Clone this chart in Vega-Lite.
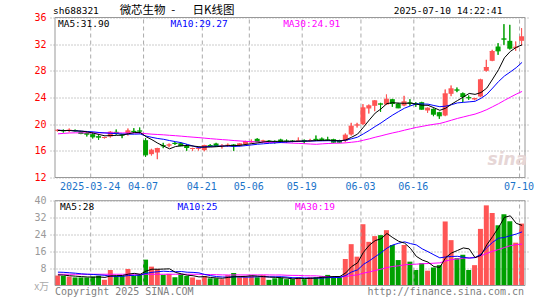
{
"$schema": "https://vega.github.io/schema/vega-lite/v6.json",
"width": 480, "height": 268,
"autosize": {"type": "none"},
"padding": {"left": 50, "top": 17.5, "right": 15, "bottom": 14.5},
"background": "white",
"config": {"view": {"stroke": null}, "font": "DejaVu Sans Mono"},
"datasets": {
"dates": [{"i":6,"d":"2025-03-24"},{"i":15,"d":"04-07"},{"i":25,"d":"04-21"},{"i":33,"d":"05-06"},{"i":42,"d":"05-19"},{"i":52,"d":"06-03"},{"i":61,"d":"06-16"},{"i":79,"d":"07-10"}],
"k": [
{"i":0,"d":"2025-03-14","o":19.0,"h":19.25,"l":18.9,"c":19.1,"v":4.7,"m5":19.05,"m10":19.1,"m30":18.55,"vm5":5.0,"vm10":6.3,"vm30":5.3},
{"i":1,"d":"2025-03-17","o":19.1,"h":19.2,"l":18.75,"c":19.0,"v":4.5,"m5":19.05,"m10":19.05,"m30":18.62,"vm5":4.9,"vm10":6.2,"vm30":5.3},
{"i":2,"d":"2025-03-18","o":19.0,"h":19.35,"l":18.8,"c":19.1,"v":4.2,"m5":19.05,"m10":19.05,"m30":18.68,"vm5":4.6,"vm10":6.0,"vm30":5.3},
{"i":3,"d":"2025-03-19","o":19.1,"h":19.2,"l":18.9,"c":19.0,"v":3.8,"m5":19.0,"m10":19.0,"m30":18.7,"vm5":4.4,"vm10":5.8,"vm30":5.3},
{"i":4,"d":"2025-03-20","o":18.9,"h":18.95,"l":18.5,"c":18.6,"v":3.8,"m5":18.96,"m10":18.95,"m30":18.7,"vm5":4.2,"vm10":5.5,"vm30":5.3},
{"i":5,"d":"2025-03-21","o":18.7,"h":18.8,"l":18.15,"c":18.5,"v":3.8,"m5":18.84,"m10":18.9,"m30":18.7,"vm5":4.02,"vm10":5.3,"vm30":5.3},
{"i":6,"d":"2025-03-24","o":18.5,"h":18.75,"l":17.85,"c":18.1,"v":4.2,"m5":18.66,"m10":18.85,"m30":18.7,"vm5":3.96,"vm10":5.2,"vm30":5.3},
{"i":7,"d":"2025-03-25","o":18.2,"h":18.35,"l":17.65,"c":18.05,"v":4.6,"m5":18.45,"m10":18.75,"m30":18.7,"vm5":4.04,"vm10":5.0,"vm30":5.3},
{"i":8,"d":"2025-03-26","o":17.95,"h":18.1,"l":17.85,"c":18.0,"v":2.7,"m5":18.25,"m10":18.68,"m30":18.7,"vm5":3.82,"vm10":4.8,"vm30":5.3},
{"i":9,"d":"2025-03-27","o":18.15,"h":18.95,"l":18.0,"c":18.8,"v":7.3,"m5":18.29,"m10":18.63,"m30":18.7,"vm5":4.52,"vm10":4.36,"vm30":5.3},
{"i":10,"d":"2025-03-28","o":18.85,"h":19.2,"l":18.4,"c":18.65,"v":4.5,"m5":18.32,"m10":18.58,"m30":18.7,"vm5":4.66,"vm10":4.34,"vm30":5.3},
{"i":11,"d":"2025-03-31","o":18.45,"h":18.55,"l":17.9,"c":18.35,"v":4.5,"m5":18.37,"m10":18.52,"m30":18.68,"vm5":4.72,"vm10":4.34,"vm30":5.3},
{"i":12,"d":"2025-04-01","o":18.6,"h":19.35,"l":18.3,"c":19.0,"v":7.8,"m5":18.56,"m10":18.5,"m30":18.68,"vm5":5.36,"vm10":4.7,"vm30":5.3},
{"i":13,"d":"2025-04-02","o":19.0,"h":19.4,"l":18.7,"c":18.9,"v":4.5,"m5":18.74,"m10":18.5,"m30":18.67,"vm5":5.72,"vm10":4.77,"vm30":5.3},
{"i":14,"d":"2025-04-03","o":19.05,"h":19.5,"l":18.6,"c":18.95,"v":5.0,"m5":18.77,"m10":18.53,"m30":18.66,"vm5":5.26,"vm10":4.89,"vm30":5.3},
{"i":15,"d":"2025-04-07","o":17.6,"h":17.9,"l":15.1,"c":15.4,"v":12.2,"m5":18.12,"m10":18.22,"m30":18.57,"vm5":6.8,"vm10":5.73,"vm30":5.3},
{"i":16,"d":"2025-04-08","o":15.5,"h":16.3,"l":15.3,"c":16.1,"v":8.9,"m5":17.67,"m10":18.02,"m30":18.5,"vm5":7.68,"vm10":6.2,"vm30":5.3},
{"i":17,"d":"2025-04-09","o":15.75,"h":16.45,"l":14.75,"c":16.35,"v":7.7,"m5":17.14,"m10":17.85,"m30":18.45,"vm5":7.66,"vm10":6.51,"vm30":5.3},
{"i":18,"d":"2025-04-10","o":16.85,"h":17.2,"l":16.4,"c":16.75,"v":5.0,"m5":16.71,"m10":17.73,"m30":18.4,"vm5":7.76,"vm10":6.74,"vm30":5.3},
{"i":19,"d":"2025-04-11","o":16.8,"h":17.1,"l":16.55,"c":16.9,"v":5.5,"m5":16.3,"m10":17.54,"m30":18.33,"vm5":7.86,"vm10":6.56,"vm30":5.3},
{"i":20,"d":"2025-04-14","o":17.2,"h":17.35,"l":16.9,"c":17.1,"v":3.9,"m5":16.64,"m10":17.38,"m30":18.27,"vm5":6.2,"vm10":6.5,"vm30":5.3},
{"i":21,"d":"2025-04-15","o":17.15,"h":17.3,"l":16.7,"c":16.75,"v":5.4,"m5":16.77,"m10":17.22,"m30":18.2,"vm5":5.5,"vm10":6.59,"vm30":5.3},
{"i":22,"d":"2025-04-16","o":16.75,"h":17.0,"l":16.0,"c":16.5,"v":4.5,"m5":16.8,"m10":16.97,"m30":18.12,"vm5":4.86,"vm10":6.26,"vm30":5.3},
{"i":23,"d":"2025-04-17","o":16.3,"h":16.45,"l":16.0,"c":16.35,"v":3.8,"m5":16.72,"m10":16.72,"m30":18.05,"vm5":4.62,"vm10":6.19,"vm30":5.3},
{"i":24,"d":"2025-04-18","o":16.3,"h":16.5,"l":16.05,"c":16.4,"v":2.7,"m5":16.62,"m10":16.46,"m30":17.98,"vm5":4.06,"vm10":5.96,"vm30":5.3},
{"i":25,"d":"2025-04-21","o":16.1,"h":16.9,"l":15.95,"c":16.8,"v":4.5,"m5":16.56,"m10":16.6,"m30":17.9,"vm5":4.18,"vm10":5.19,"vm30":5.2},
{"i":26,"d":"2025-04-22","o":16.85,"h":17.0,"l":16.6,"c":16.8,"v":3.4,"m5":16.57,"m10":16.67,"m30":17.82,"vm5":3.78,"vm10":4.64,"vm30":5.15},
{"i":27,"d":"2025-04-23","o":17.1,"h":17.2,"l":16.6,"c":16.75,"v":3.4,"m5":16.62,"m10":16.71,"m30":17.75,"vm5":3.56,"vm10":4.21,"vm30":5.1},
{"i":28,"d":"2025-04-24","o":16.7,"h":17.0,"l":16.35,"c":16.75,"v":3.0,"m5":16.7,"m10":16.71,"m30":17.68,"vm5":3.4,"vm10":4.01,"vm30":5.0},
{"i":29,"d":"2025-04-25","o":16.8,"h":17.1,"l":16.6,"c":16.85,"v":4.85,"m5":16.79,"m10":16.7,"m30":17.62,"vm5":3.83,"vm10":3.95,"vm30":4.96},
{"i":30,"d":"2025-04-28","o":16.95,"h":17.0,"l":16.0,"c":16.75,"v":5.9,"m5":16.78,"m10":16.67,"m30":17.54,"vm5":4.11,"vm10":4.15,"vm30":5.0},
{"i":31,"d":"2025-04-29","o":16.8,"h":17.15,"l":16.7,"c":17.05,"v":3.9,"m5":16.83,"m10":16.7,"m30":17.48,"vm5":4.21,"vm10":4.0,"vm30":4.98},
{"i":32,"d":"2025-04-30","o":17.0,"h":17.5,"l":16.95,"c":17.4,"v":3.9,"m5":16.96,"m10":16.79,"m30":17.42,"vm5":4.31,"vm10":3.94,"vm30":4.97},
{"i":33,"d":"2025-05-06","o":17.3,"h":17.7,"l":17.2,"c":17.35,"v":4.5,"m5":17.08,"m10":16.89,"m30":17.37,"vm5":4.61,"vm10":4.0,"vm30":4.99},
{"i":34,"d":"2025-05-07","o":17.8,"h":17.9,"l":17.3,"c":17.4,"v":3.9,"m5":17.19,"m10":16.99,"m30":17.33,"vm5":4.42,"vm10":4.13,"vm30":4.99},
{"i":35,"d":"2025-05-08","o":17.45,"h":17.65,"l":17.25,"c":17.5,"v":4.85,"m5":17.34,"m10":17.06,"m30":17.29,"vm5":4.21,"vm10":4.16,"vm30":5.03},
{"i":36,"d":"2025-05-09","o":17.5,"h":17.6,"l":17.2,"c":17.45,"v":2.65,"m5":17.42,"m10":17.13,"m30":17.27,"vm5":3.96,"vm10":4.09,"vm30":4.98},
{"i":37,"d":"2025-05-12","o":17.45,"h":17.55,"l":17.1,"c":17.4,"v":3.4,"m5":17.42,"m10":17.19,"m30":17.25,"vm5":3.86,"vm10":4.09,"vm30":4.94},
{"i":38,"d":"2025-05-13","o":17.7,"h":17.8,"l":17.3,"c":17.4,"v":3.6,"m5":17.43,"m10":17.26,"m30":17.23,"vm5":3.68,"vm10":4.15,"vm30":4.97},
{"i":39,"d":"2025-05-14","o":17.5,"h":17.7,"l":17.2,"c":17.45,"v":3.0,"m5":17.44,"m10":17.32,"m30":17.19,"vm5":3.5,"vm10":3.96,"vm30":4.82},
{"i":40,"d":"2025-05-15","o":17.5,"h":17.6,"l":17.3,"c":17.45,"v":3.0,"m5":17.43,"m10":17.39,"m30":17.15,"vm5":3.13,"vm10":3.67,"vm30":4.77},
{"i":41,"d":"2025-05-16","o":17.45,"h":18.0,"l":17.4,"c":17.5,"v":3.9,"m5":17.44,"m10":17.43,"m30":17.12,"vm5":3.38,"vm10":3.67,"vm30":4.75},
{"i":42,"d":"2025-05-19","o":17.6,"h":17.7,"l":17.1,"c":17.5,"v":3.0,"m5":17.46,"m10":17.44,"m30":17.07,"vm5":3.3,"vm10":3.58,"vm30":4.59},
{"i":43,"d":"2025-05-20","o":17.5,"h":17.8,"l":17.4,"c":17.55,"v":3.9,"m5":17.49,"m10":17.46,"m30":17.02,"vm5":3.36,"vm10":3.52,"vm30":4.57},
{"i":44,"d":"2025-05-21","o":17.8,"h":18.3,"l":17.5,"c":17.7,"v":3.9,"m5":17.54,"m10":17.49,"m30":16.98,"vm5":3.54,"vm10":3.52,"vm30":4.54},
{"i":45,"d":"2025-05-22","o":17.85,"h":18.0,"l":17.5,"c":17.6,"v":4.5,"m5":17.57,"m10":17.5,"m30":17.05,"vm5":3.84,"vm10":3.49,"vm30":4.28},
{"i":46,"d":"2025-05-23","o":17.7,"h":18.1,"l":17.5,"c":17.6,"v":5.0,"m5":17.59,"m10":17.52,"m30":17.1,"vm5":4.06,"vm10":3.72,"vm30":4.15},
{"i":47,"d":"2025-05-26","o":17.75,"h":17.8,"l":17.2,"c":17.3,"v":3.9,"m5":17.55,"m10":17.5,"m30":17.14,"vm5":4.24,"vm10":3.77,"vm30":4.02},
{"i":48,"d":"2025-05-27","o":17.6,"h":17.65,"l":17.2,"c":17.3,"v":3.9,"m5":17.5,"m10":17.5,"m30":17.15,"vm5":4.24,"vm10":3.8,"vm30":3.99},
{"i":49,"d":"2025-05-28","o":17.5,"h":18.6,"l":17.3,"c":18.35,"v":12.5,"m5":17.63,"m10":17.59,"m30":17.2,"vm5":5.96,"vm10":4.75,"vm30":4.22},
{"i":50,"d":"2025-05-29","o":18.45,"h":20.2,"l":18.3,"c":19.7,"v":19.5,"m5":18.05,"m10":17.81,"m30":17.29,"vm5":8.96,"vm10":6.4,"vm30":4.74},
{"i":51,"d":"2025-05-30","o":19.8,"h":20.2,"l":19.5,"c":19.9,"v":13.6,"m5":18.51,"m10":18.05,"m30":17.39,"vm5":10.68,"vm10":7.37,"vm30":5.01},
{"i":52,"d":"2025-06-03","o":20.0,"h":23.0,"l":19.9,"c":22.45,"v":28.9,"m5":19.54,"m10":18.55,"m30":17.59,"vm5":15.68,"vm10":9.96,"vm30":5.83},
{"i":53,"d":"2025-06-04","o":22.35,"h":22.95,"l":21.6,"c":22.75,"v":20.6,"m5":20.63,"m10":19.07,"m30":17.8,"vm5":19.02,"vm10":11.63,"vm30":6.39},
{"i":54,"d":"2025-06-05","o":22.75,"h":23.6,"l":21.95,"c":23.5,"v":23.3,"m5":21.66,"m10":19.65,"m30":18.04,"vm5":21.18,"vm10":13.57,"vm30":7.07},
{"i":55,"d":"2025-06-06","o":23.1,"h":23.2,"l":21.85,"c":23.0,"v":23.75,"m5":22.3,"m10":20.19,"m30":18.25,"vm5":22.03,"vm10":15.5,"vm30":7.71},
{"i":56,"d":"2025-06-09","o":22.95,"h":24.45,"l":22.9,"c":23.75,"v":26.1,"m5":23.09,"m10":20.8,"m30":18.48,"vm5":24.53,"vm10":17.61,"vm30":8.47},
{"i":57,"d":"2025-06-10","o":23.75,"h":23.8,"l":22.6,"c":23.1,"v":19.1,"m5":23.22,"m10":21.38,"m30":18.69,"vm5":22.57,"vm10":19.13,"vm30":8.99},
{"i":58,"d":"2025-06-11","o":23.1,"h":23.2,"l":22.4,"c":22.45,"v":12.0,"m5":23.16,"m10":21.9,"m30":18.88,"vm5":20.85,"vm10":19.94,"vm30":9.29},
{"i":59,"d":"2025-06-12","o":22.8,"h":24.25,"l":22.7,"c":23.35,"v":19.1,"m5":23.13,"m10":22.4,"m30":19.1,"vm5":20.01,"vm10":20.6,"vm30":9.77},
{"i":60,"d":"2025-06-13","o":23.25,"h":23.75,"l":22.75,"c":23.15,"v":11.25,"m5":23.16,"m10":22.74,"m30":19.31,"vm5":17.51,"vm10":19.77,"vm30":9.95},
{"i":61,"d":"2025-06-16","o":23.15,"h":23.3,"l":22.6,"c":23.0,"v":7.3,"m5":23.01,"m10":23.05,"m30":19.51,"vm5":13.75,"vm10":19.14,"vm30":10.06},
{"i":62,"d":"2025-06-17","o":23.3,"h":23.35,"l":22.2,"c":22.25,"v":10.5,"m5":22.84,"m10":23.03,"m30":19.67,"vm5":12.03,"vm10":17.3,"vm30":10.28},
{"i":63,"d":"2025-06-18","o":22.05,"h":22.5,"l":21.7,"c":22.4,"v":7.0,"m5":22.83,"m10":23.0,"m30":19.84,"vm5":11.03,"vm10":15.94,"vm30":10.36},
{"i":64,"d":"2025-06-19","o":22.3,"h":22.35,"l":21.2,"c":21.5,"v":8.5,"m5":22.46,"m10":22.8,"m30":19.98,"vm5":8.91,"vm10":14.46,"vm30":10.52},
{"i":65,"d":"2025-06-20","o":21.8,"h":21.85,"l":20.8,"c":21.25,"v":9.6,"m5":22.08,"m10":22.62,"m30":20.1,"vm5":8.58,"vm10":13.05,"vm30":10.68},
{"i":66,"d":"2025-06-23","o":21.3,"h":25.2,"l":21.2,"c":24.55,"v":30.2,"m5":22.39,"m10":22.7,"m30":20.34,"vm5":13.16,"vm10":13.46,"vm30":11.59},
{"i":67,"d":"2025-06-24","o":24.55,"h":25.8,"l":24.2,"c":25.3,"v":21.4,"m5":23.0,"m10":22.92,"m30":20.6,"vm5":15.34,"vm10":13.69,"vm30":12.19},
{"i":68,"d":"2025-06-25","o":25.2,"h":25.5,"l":24.8,"c":25.1,"v":12.9,"m5":23.54,"m10":23.19,"m30":20.86,"vm5":16.52,"vm10":13.78,"vm30":12.5},
{"i":69,"d":"2025-06-26","o":24.65,"h":24.75,"l":23.3,"c":24.15,"v":14.5,"m5":24.07,"m10":23.27,"m30":21.08,"vm5":17.72,"vm10":13.32,"vm30":12.89},
{"i":70,"d":"2025-06-27","o":24.05,"h":24.3,"l":23.65,"c":23.95,"v":7.3,"m5":24.61,"m10":23.35,"m30":21.3,"vm5":17.26,"vm10":12.92,"vm30":13.03},
{"i":71,"d":"2025-06-30","o":23.7,"h":23.95,"l":23.6,"c":23.85,"v":9.6,"m5":24.47,"m10":23.43,"m30":21.51,"vm5":13.14,"vm10":13.15,"vm30":13.22},
{"i":72,"d":"2025-07-01","o":24.15,"h":26.8,"l":24.05,"c":26.65,"v":26.7,"m5":24.74,"m10":23.87,"m30":21.82,"vm5":14.2,"vm10":14.77,"vm30":14.01},
{"i":73,"d":"2025-07-02","o":28.0,"h":29.65,"l":27.9,"c":28.5,"v":37.8,"m5":25.42,"m10":24.48,"m30":22.18,"vm5":19.18,"vm10":17.85,"vm30":15.14},
{"i":74,"d":"2025-07-03","o":29.5,"h":31.15,"l":29.45,"c":30.9,"v":34.2,"m5":26.77,"m10":25.42,"m30":22.62,"vm5":23.12,"vm10":20.42,"vm30":16.15},
{"i":75,"d":"2025-07-04","o":31.65,"h":32.15,"l":30.4,"c":31.0,"v":28.4,"m5":28.18,"m10":26.4,"m30":23.07,"vm5":27.34,"vm10":22.3,"vm30":16.95},
{"i":76,"d":"2025-07-07","o":32.85,"h":35.0,"l":31.9,"c":32.75,"v":33.6,"m5":29.96,"m10":27.22,"m30":23.57,"vm5":32.14,"vm10":22.64,"vm30":17.9},
{"i":77,"d":"2025-07-08","o":32.5,"h":34.9,"l":31.2,"c":31.4,"v":30.3,"m5":30.91,"m10":27.83,"m30":24.04,"vm5":32.86,"vm10":23.53,"vm30":18.78},
{"i":78,"d":"2025-07-09","o":31.45,"h":32.4,"l":31.0,"c":31.55,"v":20.2,"m5":31.52,"m10":28.47,"m30":24.5,"vm5":29.34,"vm10":24.26,"vm30":19.32},
{"i":79,"d":"2025-07-10","o":32.5,"h":34.4,"l":31.85,"c":33.1,"v":29.2,"m5":31.9,"m10":29.27,"m30":24.91,"vm5":28.34,"vm10":25.3,"vm30":19.5}
]
},
"resolve": {"scale": {"y": "independent"}, "axis": {"y": "independent"}},
"layer": [
{"data": {"name": "k"}, "mark": {"type": "rule", "strokeWidth": 1, "xOffset": -0.5},
 "encoding": {"x": {"field": "i", "type": "quantitative", "scale": {"domain": [-0.5, 79.5], "nice": false, "zero": false}, "axis": null},
  "y": {"field": "l", "type": "quantitative", "scale": {"domain": [-4.2, 36], "nice": false, "zero": false},
   "axis": {"values": [12, 16, 20, 24, 28, 32, 36], "orient": "left", "grid": true, "gridDash": [1, 2], "gridColor": "#999999", "ticks": false, "domain": false, "labelColor": "#ff0000", "labelFont": "DejaVu Sans Mono", "labelFontSize": 10, "labelPadding": 4, "title": null}},
  "y2": {"field": "h"},
  "color": {"condition": {"test": "datum.c >= datum.o", "value": "#ff5555"}, "value": "#00a000"}}},
{"data": {"name": "k"}, "mark": {"type": "bar", "size": 5, "xOffset": -0.5},
 "encoding": {"x": {"field": "i", "type": "quantitative", "scale": {"domain": [-0.5, 79.5], "nice": false, "zero": false}, "axis": null},
  "y": {"field": "v", "type": "quantitative", "scale": {"domain": [0, 126.4], "nice": false, "zero": false},
   "axis": {"values": [8, 16, 24, 32, 40], "orient": "left", "grid": true, "gridDash": [1, 2], "gridColor": "#999999", "ticks": false, "domain": false, "labelColor": "#999999", "labelFont": "DejaVu Sans Mono", "labelFontSize": 10, "labelPadding": 4, "title": null}},
  "color": {"condition": {"test": "datum.c >= datum.o", "value": "#ff5555"}, "value": "#00a000"}}},
{"data": {"name": "dates"}, "mark": {"type": "rule", "stroke": "#aaaaaa", "strokeWidth": 1, "strokeDash": [4, 3], "xOffset": -2.5},
 "encoding": {"x": {"field": "i", "type": "quantitative", "axis": null},
  "y": {"datum": 12, "type": "quantitative", "scale": {"domain": [-4.2, 36], "nice": false, "zero": false}, "axis": null}, "y2": {"datum": 36}}},
{"data": {"name": "dates"}, "mark": {"type": "rule", "stroke": "#aaaaaa", "strokeWidth": 1, "strokeDash": [4, 3], "xOffset": -2.5},
 "encoding": {"x": {"field": "i", "type": "quantitative", "axis": null},
  "y": {"datum": 0, "type": "quantitative", "scale": {"domain": [0, 126.4], "nice": false, "zero": false}, "axis": null}, "y2": {"datum": 40}}},
{"data": {"name": "dates"}, "mark": {"type": "text", "color": "#1a73c9", "font": "DejaVu Sans Mono", "fontSize": 10, "align": "center", "baseline": "middle", "xOffset": -3},
 "encoding": {"x": {"field": "i", "type": "quantitative", "axis": null},
  "y": {"datum": 10.62, "type": "quantitative", "scale": {"domain": [-4.2, 36], "nice": false, "zero": false}, "axis": null}, "text": {"field": "d"}}},
{"data": {"name": "k"}, "mark": {"type": "rule", "strokeWidth": 1, "xOffset": -0.5},
 "encoding": {"x": {"field": "i", "type": "quantitative", "axis": null},
  "y": {"field": "l", "type": "quantitative", "scale": {"domain": [-4.2, 36], "nice": false, "zero": false}, "axis": null}, "y2": {"field": "h"},
  "color": {"condition": {"test": "datum.c >= datum.o", "value": "#ff5555"}, "value": "#00a000"}}},
{"data": {"name": "k"}, "mark": {"type": "bar", "size": 5, "xOffset": -0.5},
 "encoding": {"x": {"field": "i", "type": "quantitative", "axis": null},
  "y": {"field": "o", "type": "quantitative", "scale": {"domain": [-4.2, 36], "nice": false, "zero": false}, "axis": null}, "y2": {"field": "c"},
  "color": {"condition": {"test": "datum.c >= datum.o", "value": "#ff5555"}, "value": "#00a000"}}},
{"data": {"name": "k"}, "mark": {"type": "tick", "orient": "horizontal", "size": 5, "thickness": 1, "xOffset": -0.5, "opacity": 1},
 "encoding": {"x": {"field": "i", "type": "quantitative", "axis": null},
  "y": {"field": "c", "type": "quantitative", "scale": {"domain": [-4.2, 36], "nice": false, "zero": false}, "axis": null},
  "color": {"condition": {"test": "datum.c >= datum.o", "value": "#ff5555"}, "value": "#00a000"}}},
{"data": {"name": "k"}, "mark": {"type": "line", "color": "#ff00ff", "strokeWidth": 1},
 "encoding": {"x": {"field": "i", "type": "quantitative", "axis": null}, "y": {"field": "m30", "type": "quantitative", "scale": {"domain": [-4.2, 36], "nice": false, "zero": false}, "axis": null}}},
{"data": {"name": "k"}, "mark": {"type": "line", "color": "#0000ff", "strokeWidth": 1},
 "encoding": {"x": {"field": "i", "type": "quantitative", "axis": null}, "y": {"field": "m10", "type": "quantitative", "scale": {"domain": [-4.2, 36], "nice": false, "zero": false}, "axis": null}}},
{"data": {"name": "k"}, "mark": {"type": "line", "color": "#000000", "strokeWidth": 1},
 "encoding": {"x": {"field": "i", "type": "quantitative", "axis": null}, "y": {"field": "m5", "type": "quantitative", "scale": {"domain": [-4.2, 36], "nice": false, "zero": false}, "axis": null}}},
{"data": {"name": "k"}, "mark": {"type": "line", "color": "#ff00ff", "strokeWidth": 1},
 "encoding": {"x": {"field": "i", "type": "quantitative", "axis": null}, "y": {"field": "vm30", "type": "quantitative", "scale": {"domain": [0, 126.4], "nice": false, "zero": false}, "axis": null}}},
{"data": {"name": "k"}, "mark": {"type": "line", "color": "#0000ff", "strokeWidth": 1},
 "encoding": {"x": {"field": "i", "type": "quantitative", "axis": null}, "y": {"field": "vm10", "type": "quantitative", "scale": {"domain": [0, 126.4], "nice": false, "zero": false}, "axis": null}}},
{"data": {"name": "k"}, "mark": {"type": "line", "color": "#000000", "strokeWidth": 1},
 "encoding": {"x": {"field": "i", "type": "quantitative", "axis": null}, "y": {"field": "vm5", "type": "quantitative", "scale": {"domain": [0, 126.4], "nice": false, "zero": false}, "axis": null}}},
{"data": {"values": [{}]}, "mark": {"type": "rect", "fillOpacity": 0, "stroke": "#999999", "strokeWidth": 1},
 "encoding": {"x": {"datum": -0.5, "type": "quantitative", "axis": null}, "x2": {"datum": 79.5},
  "y": {"datum": 12, "type": "quantitative", "scale": {"domain": [-4.2, 36], "nice": false, "zero": false}, "axis": null}, "y2": {"datum": 36}}},
{"data": {"values": [{}]}, "mark": {"type": "rect", "fillOpacity": 0, "stroke": "#999999", "strokeWidth": 1},
 "encoding": {"x": {"datum": -0.5, "type": "quantitative", "axis": null}, "x2": {"datum": 79.5},
  "y": {"datum": 0, "type": "quantitative", "scale": {"domain": [0, 126.4], "nice": false, "zero": false}, "axis": null}, "y2": {"datum": 40}}},
{"data": {"values": [{"t": "MA5:31.90"}]}, "mark": {"type": "text", "align": "left", "baseline": "middle", "font": "DejaVu Sans Mono", "fontSize": 9.5, "color": "#000000"},
 "encoding": {"x": {"datum": 0, "type": "quantitative", "axis": null}, "y": {"datum": 35.03, "type": "quantitative", "scale": {"domain": [-4.2, 36], "nice": false, "zero": false}, "axis": null}, "text": {"field": "t"}}},
{"data": {"values": [{"t": "MA10:29.27"}]}, "mark": {"type": "text", "align": "left", "baseline": "middle", "font": "DejaVu Sans Mono", "fontSize": 9.5, "color": "#0000ff"},
 "encoding": {"x": {"datum": 19.17, "type": "quantitative", "axis": null}, "y": {"datum": 35.03, "type": "quantitative", "scale": {"domain": [-4.2, 36], "nice": false, "zero": false}, "axis": null}, "text": {"field": "t"}}},
{"data": {"values": [{"t": "MA30:24.91"}]}, "mark": {"type": "text", "align": "left", "baseline": "middle", "font": "DejaVu Sans Mono", "fontSize": 9.5, "color": "#ff00ff"},
 "encoding": {"x": {"datum": 38.33, "type": "quantitative", "axis": null}, "y": {"datum": 35.03, "type": "quantitative", "scale": {"domain": [-4.2, 36], "nice": false, "zero": false}, "axis": null}, "text": {"field": "t"}}},
{"data": {"values": [{"t": "sh688321"}]}, "mark": {"type": "text", "align": "left", "baseline": "middle", "font": "DejaVu Sans Mono", "fontSize": 9.5, "color": "#000000"},
 "encoding": {"x": {"datum": -0.83, "type": "quantitative", "axis": null}, "y": {"datum": 37.0, "type": "quantitative", "scale": {"domain": [-4.2, 36], "nice": false, "zero": false}, "axis": null}, "text": {"field": "t"}}},
{"data": {"values": [{"t": "微芯生物\u2002-\u3000\u2002日K线图"}]}, "mark": {"type": "text", "align": "left", "baseline": "middle", "font": "Noto Sans CJK SC", "fontSize": 11.5, "color": "#000000"},
 "encoding": {"x": {"datum": 10.5, "type": "quantitative", "axis": null}, "y": {"datum": 37.05, "type": "quantitative", "scale": {"domain": [-4.2, 36], "nice": false, "zero": false}, "axis": null}, "text": {"field": "t"}}},
{"data": {"values": [{"t": "2025-07-10 14:22:41"}]}, "mark": {"type": "text", "align": "right", "baseline": "middle", "font": "DejaVu Sans Mono", "fontSize": 9.5, "color": "#000000"},
 "encoding": {"x": {"datum": 75.67, "type": "quantitative", "axis": null}, "y": {"datum": 37.0, "type": "quantitative", "scale": {"domain": [-4.2, 36], "nice": false, "zero": false}, "axis": null}, "text": {"field": "t"}}},
{"data": {"values": [{"t": "sina"}]}, "mark": {"type": "text", "align": "center", "baseline": "middle", "font": "DejaVu Sans", "fontSize": 17, "fontWeight": "bold", "fontStyle": "italic", "color": "#e6d6d6"},
 "encoding": {"x": {"datum": 76.5, "type": "quantitative", "axis": null}, "y": {"datum": 14.63, "type": "quantitative", "scale": {"domain": [-4.2, 36], "nice": false, "zero": false}, "axis": null}, "text": {"field": "t"}}},
{"data": {"values": [{"t": "MA5:28"}]}, "mark": {"type": "text", "align": "left", "baseline": "middle", "font": "DejaVu Sans Mono", "fontSize": 9.5, "color": "#000000"},
 "encoding": {"x": {"datum": 0.33, "type": "quantitative", "axis": null}, "y": {"datum": 36.8, "type": "quantitative", "scale": {"domain": [0, 126.4], "nice": false, "zero": false}, "axis": null}, "text": {"field": "t"}}},
{"data": {"values": [{"t": "MA10:25"}]}, "mark": {"type": "text", "align": "left", "baseline": "middle", "font": "DejaVu Sans Mono", "fontSize": 9.5, "color": "#0000ff"},
 "encoding": {"x": {"datum": 20.33, "type": "quantitative", "axis": null}, "y": {"datum": 36.8, "type": "quantitative", "scale": {"domain": [0, 126.4], "nice": false, "zero": false}, "axis": null}, "text": {"field": "t"}}},
{"data": {"values": [{"t": "MA30:19"}]}, "mark": {"type": "text", "align": "left", "baseline": "middle", "font": "DejaVu Sans Mono", "fontSize": 9.5, "color": "#ff00ff"},
 "encoding": {"x": {"datum": 40.33, "type": "quantitative", "axis": null}, "y": {"datum": 36.8, "type": "quantitative", "scale": {"domain": [0, 126.4], "nice": false, "zero": false}, "axis": null}, "text": {"field": "t"}}},
{"data": {"values": [{"t": "Copyright 2025 SINA.COM"}]}, "mark": {"type": "text", "align": "left", "baseline": "middle", "font": "DejaVu Sans Mono", "fontSize": 10, "color": "#808080"},
 "encoding": {"x": {"datum": -0.5, "type": "quantitative", "axis": null}, "y": {"datum": -3.07, "type": "quantitative", "scale": {"domain": [0, 126.4], "nice": false, "zero": false}, "axis": null}, "text": {"field": "t"}}},
{"data": {"values": [{"t": "http://finance.sina.com.cn"}]}, "mark": {"type": "text", "align": "right", "baseline": "middle", "font": "DejaVu Sans Mono", "fontSize": 10, "color": "#808080"},
 "encoding": {"x": {"datum": 79.33, "type": "quantitative", "axis": null}, "y": {"datum": -3.07, "type": "quantitative", "scale": {"domain": [0, 126.4], "nice": false, "zero": false}, "axis": null}, "text": {"field": "t"}}},
{"data": {"values": [{"t": "x万"}]}, "mark": {"type": "text", "align": "right", "baseline": "middle", "font": "Noto Sans CJK SC", "fontSize": 10, "color": "#aaaaaa"},
 "encoding": {"x": {"datum": -1.5, "type": "quantitative", "axis": null}, "y": {"datum": -0.94, "type": "quantitative", "scale": {"domain": [0, 126.4], "nice": false, "zero": false}, "axis": null}, "text": {"field": "t"}}}
]
}
